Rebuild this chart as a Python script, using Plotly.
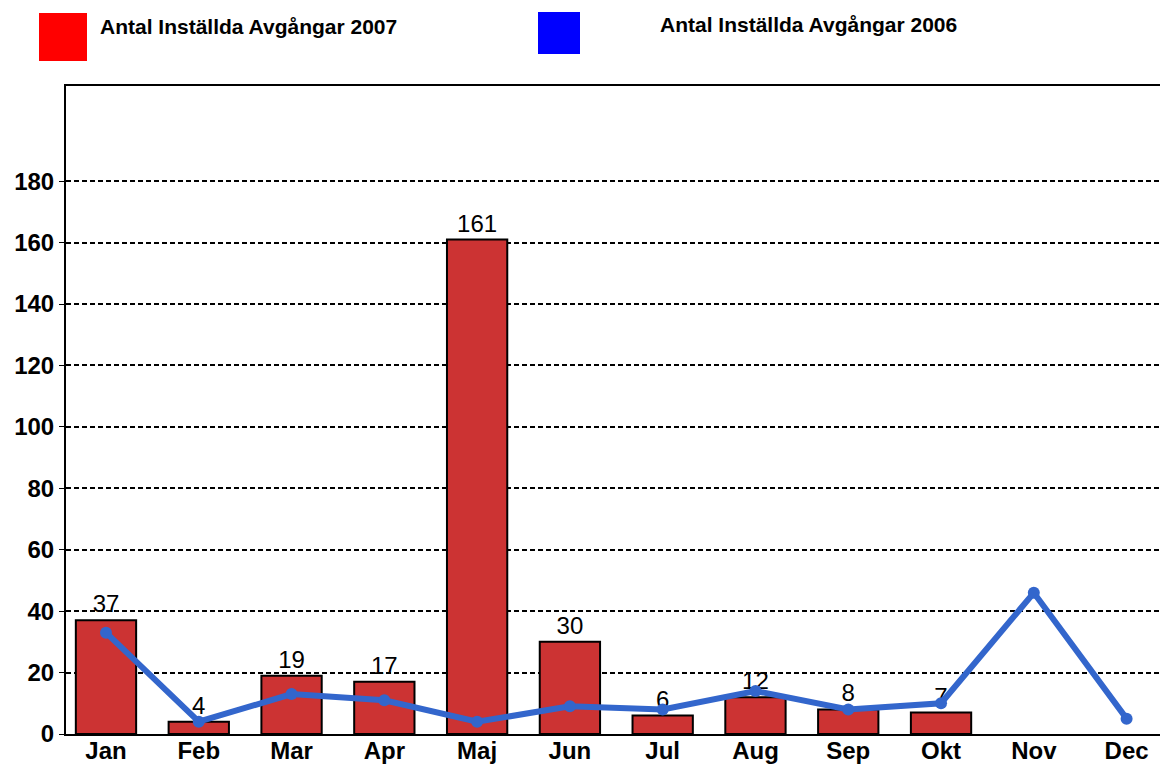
import plotly.graph_objects as go

months = ["Jan", "Feb", "Mar", "Apr", "Maj", "Jun", "Jul", "Aug", "Sep", "Okt", "Nov", "Dec"]
values_2007 = [37, 4, 19, 17, 161, 30, 6, 12, 8, 7, None, None]
values_2006 = [33, 4, 13, 11, 4, 9, 8, 14, 8, 10, 46, 5]
name_2007 = "Antal Inställda Avgångar 2007"
name_2006 = "Antal Inställda Avgångar 2006"
y_ticks = [0, 20, 40, 60, 80, 100, 120, 140, 160, 180]

FONT = "Liberation Sans, Arial, sans-serif"
W, H = 1160, 765
L, T, B = 66, 86, 31
PW, PH = W - L, H - T - B

fig = go.Figure()
fig.add_trace(go.Bar(
    x=months, y=values_2007, name=name_2007,
    marker=dict(color="#CC3333", line=dict(color="black", width=2)),
    width=0.65,
    text=[str(v) if v is not None else "" for v in values_2007],
    textposition="outside", cliponaxis=False,
    textfont=dict(family=FONT, size=24, color="black"),
    showlegend=False,
))
fig.add_trace(go.Scatter(
    x=months, y=values_2006, name=name_2006, mode="lines+markers",
    line=dict(color="#3366CC", width=6),
    marker=dict(color="#3366CC", size=12),
    showlegend=False, cliponaxis=False,
))

def px_x(x):
    return (x - L) / PW

def px_y(y):
    return (H - B - y) / PH

# custom legend
fig.add_shape(type="rect", xref="paper", yref="paper",
              x0=px_x(39), x1=px_x(87), y0=px_y(61), y1=px_y(13),
              fillcolor="#FF0000", line=dict(width=0))
fig.add_shape(type="rect", xref="paper", yref="paper",
              x0=px_x(538), x1=px_x(580), y0=px_y(54), y1=px_y(12),
              fillcolor="#0000FF", line=dict(width=0))
fig.add_annotation(xref="paper", yref="paper", x=px_x(98), y=px_y(26),
                   text="<b>" + name_2007 + "</b>", showarrow=False,
                   xanchor="left", yanchor="middle",
                   font=dict(family=FONT, size=21, color="black"))
fig.add_annotation(xref="paper", yref="paper", x=px_x(658), y=px_y(25),
                   text="<b>" + name_2006 + "</b>", showarrow=False,
                   xanchor="left", yanchor="middle",
                   font=dict(family=FONT, size=21, color="black"))

fig.update_layout(
    width=W, height=H,
    margin=dict(l=L, r=0, t=T, b=B, pad=0),
    paper_bgcolor="white", plot_bgcolor="white",
    font=dict(family=FONT, color="black"),
    xaxis=dict(
        type="category", range=[-0.431, 11.36], automargin=False,
        showline=True, linecolor="black", linewidth=2, mirror=True,
        showgrid=False, ticks="", ticklabelstandoff=-6,
        tickfont=dict(family=FONT, size=24, color="black", weight="bold"),
    ),
    yaxis=dict(
        range=[0, 211], tickvals=y_ticks, automargin=False,
        showline=True, linecolor="black", linewidth=2,
        showgrid=True, gridcolor="black", gridwidth=1.6, griddash="5px,3px",
        zeroline=False,
        ticks="outside", ticklen=5, tickcolor="black",
        tickfont=dict(family=FONT, size=24, color="black", weight="bold"),
    ),
)

fig.write_html(
    "out.html",
    config={"displayModeBar": False},
    post_script="document.body.style.margin='0';document.body.style.overflow='hidden';",
)
